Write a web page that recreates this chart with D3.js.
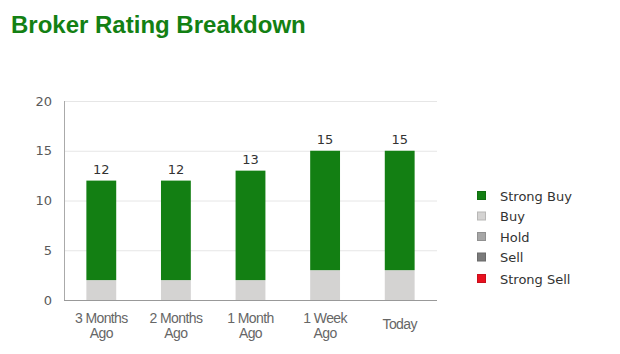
<!DOCTYPE html>
<html>
<head>
<meta charset="utf-8">
<script src="https://cdn.jsdelivr.net/npm/d3@7"></script>
<style>
  body { margin: 0; background: #fff; }
  svg { display: block; }
</style>
</head>
<body>
<svg></svg>
<script>
const width = 620;
const height = 354;
const margin = {top: 101, right: 183, left: 64, bottom: 54};
const innerWidth = width - margin.left - margin.right;
const innerHeight = height - margin.top - margin.bottom;

// data
const periods = [['3 Months', 'Ago'], ['2 Months', 'Ago'], ['1 Month', 'Ago'], ['1 Week', 'Ago'], ['Today']];
const ratings = ['Strong Buy', 'Buy', 'Hold', 'Sell', 'Strong Sell'];
const strongBuy = [10, 10, 11, 12, 12];
const buy = [2, 2, 2, 3, 3];
const hold = [0, 0, 0, 0, 0];
const sell = [0, 0, 0, 0, 0];
const strongSell = [0, 0, 0, 0, 0];
const yTicks = [0, 5, 10, 15, 20];

const colors = ['#137f13', '#d4d3d2', '#a6a6a6', '#7a7a7a', '#e8111f'];
const color = d3.scaleOrdinal().domain(ratings).range(colors);

const rows = periods.map((p, i) => ({
  key: p.join(' '),
  lines: p,
  'Strong Buy': strongBuy[i],
  'Buy': buy[i],
  'Hold': hold[i],
  'Sell': sell[i],
  'Strong Sell': strongSell[i]
}));

const svg = d3.select('svg')
  .attr('width', width)
  .attr('height', height);

svg.append('text')
  .attr('x', 11)
  .attr('y', 33)
  .attr('fill', '#138013')
  .style('font', 'bold 24px "Liberation Sans", Arial, sans-serif')
  .text('Broker Rating Breakdown');

const g = svg.append('g')
  .attr('transform', `translate(${margin.left}, ${margin.top})`);

const xScale = d3.scaleBand()
  .domain(rows.map(d => d.key))
  .range([0, innerWidth])
  .paddingInner(0.6)
  .paddingOuter(0.3);

const yScale = d3.scaleLinear()
  .domain([0, 20])
  .range([innerHeight, 0]);

// grid
g.selectAll('.grid').data(yTicks.filter(t => t > 0))
  .enter().append('line')
    .attr('x1', 0)
    .attr('x2', innerWidth)
    .attr('y1', d => yScale(d) + 0.5)
    .attr('y2', d => yScale(d) + 0.5)
    .attr('stroke', '#e6e6e6');

// y labels
g.selectAll('.ylab').data(yTicks)
  .enter().append('text')
    .attr('x', -12)
    .attr('y', d => yScale(d))
    .attr('dy', '0.35em')
    .attr('text-anchor', 'end')
    .attr('fill', '#5a5a5a')
    .style('font', '13px "DejaVu Sans", sans-serif')
    .text(d => d);

// stacked bars, buy at the bottom, strong buy on top
const stack = d3.stack().keys(ratings.slice().reverse())(rows);
g.selectAll('.layer').data(stack)
  .enter().append('g')
    .attr('fill', d => color(d.key))
  .selectAll('rect').data(d => d)
  .enter().append('rect')
    .attr('x', d => xScale(d.data.key))
    .attr('y', d => yScale(d[1]))
    .attr('width', xScale.bandwidth())
    .attr('height', d => yScale(d[0]) - yScale(d[1]));

// totals
g.selectAll('.total').data(rows)
  .enter().append('text')
    .attr('x', d => xScale(d.key) + xScale.bandwidth() / 2)
    .attr('y', d => yScale(d3.sum(ratings, r => d[r])) - 7)
    .attr('text-anchor', 'middle')
    .attr('fill', '#333')
    .style('font', '13px "DejaVu Sans", sans-serif')
    .text(d => d3.sum(ratings, r => d[r]));

// axes lines
g.append('line')
  .attr('x1', 0.5).attr('x2', 0.5)
  .attr('y1', 0).attr('y2', innerHeight)
  .attr('stroke', '#aaa');
g.append('line')
  .attr('x1', 0).attr('x2', innerWidth)
  .attr('y1', innerHeight + 0.5).attr('y2', innerHeight + 0.5)
  .attr('stroke', '#999');

// x labels
const xl = g.selectAll('.xlab').data(rows)
  .enter().append('text')
    .attr('transform', d => `translate(${xScale(d.key) + xScale.bandwidth() / 2}, ${innerHeight})`)
    .attr('text-anchor', 'middle')
    .attr('fill', '#666')
    .style('font', '14px "Liberation Sans", Arial, sans-serif')
    .style('letter-spacing', '-0.6px');
xl.selectAll('tspan').data(d => d.lines)
  .enter().append('tspan')
    .attr('x', 0)
    .attr('y', (d, i, n) => n.length > 1 ? 23 + i * 15 : 29)
    .text(d => d);

// legend
const legend = svg.append('g')
  .attr('transform', 'translate(477, 196)');
const item = legend.selectAll('g').data(ratings)
  .enter().append('g')
    .attr('transform', (d, i) => `translate(0, ${i * 20.5 + (i === 4 ? 1 : 0)})`);
item.append('rect')
  .attr('x', 0.5).attr('y', -4.5)
  .attr('width', 8).attr('height', 8)
  .attr('fill', d => color(d))
  .attr('stroke', d => d3.color(color(d)).darker(0.4));
item.append('text')
  .attr('x', 23)
  .attr('y', 0)
  .attr('dy', '0.35em')
  .attr('fill', '#333')
  .style('font', '13px "DejaVu Sans", sans-serif')
  .text(d => d);
</script>
</body>
</html>
